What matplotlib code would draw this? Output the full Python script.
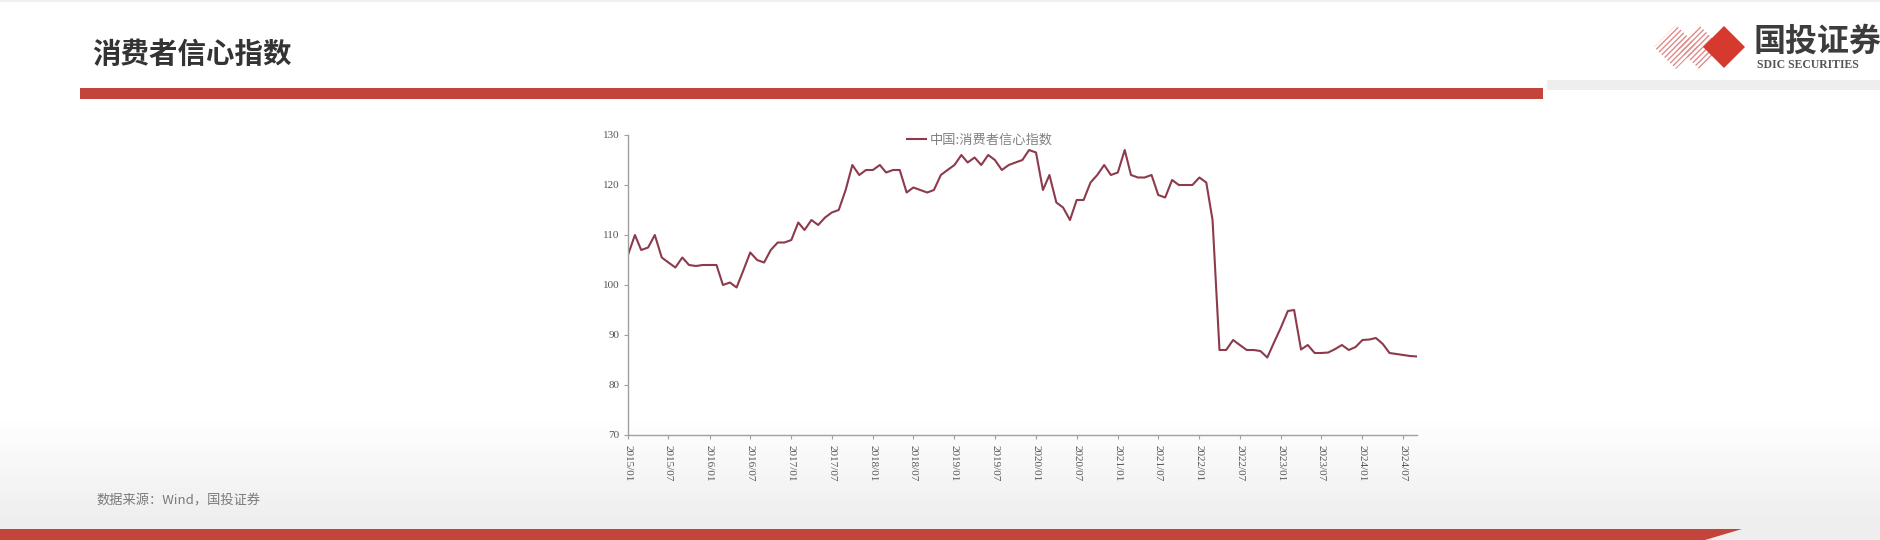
import numpy as np
import pandas as pd
import matplotlib
matplotlib.use("Agg")
import matplotlib.pyplot as plt
from matplotlib.patches import Polygon, Rectangle

plt.rcParams['font.family'] = ['Noto Sans CJK SC', 'DejaVu Sans']

# ---------------- data ----------------
title = "消费者信心指数"
series_name = "中国:消费者信心指数"
source_text = "数据来源：Wind，国投证券"
start_month = "2015-01"
cci = [
    106, 110, 107, 107.5, 110, 105.5, 104.5, 103.5, 105.5, 104, 103.8, 104,
    104, 104, 100, 100.5, 99.5, 103, 106.5, 105, 104.5, 107, 108.5, 108.5,
    109, 112.5, 111, 113, 112, 113.5, 114.5, 115, 119, 124, 122, 123,
    123, 124, 122.5, 123, 123, 118.5, 119.5, 119, 118.5, 119, 122, 123,
    124, 126, 124.5, 125.5, 124, 126, 125, 123, 124, 124.5, 125, 127,
    126.5, 119, 122, 116.5, 115.5, 113, 117, 117, 120.5, 122, 124, 122,
    122.5, 127, 122, 121.5, 121.5, 122, 118, 117.5, 121, 120, 120, 120,
    121.5, 120.5, 113, 87, 87, 89, 88, 87, 87, 86.8, 85.5, 88.5,
    91.5, 94.8, 95, 87.1, 88, 86.4, 86.4, 86.5, 87.2, 88, 87, 87.6,
    89, 89.1, 89.4, 88.2, 86.4, 86.2, 86, 85.8, 85.7,
]
x_labels = ["2015/01", "2015/07", "2016/01", "2016/07", "2017/01", "2017/07",
            "2018/01", "2018/07", "2019/01", "2019/07", "2020/01", "2020/07",
            "2021/01", "2021/07", "2022/01", "2022/07", "2023/01", "2023/07",
            "2024/01", "2024/07"]
y_ticks = [70, 80, 90, 100, 110, 120, 130]

dates = pd.date_range(start_month, periods=len(cci), freq="MS")
tick_dates = pd.to_datetime([s.replace("/", "-") for s in x_labels])

W, H = 1880, 540
fig = plt.figure(figsize=(W / 100, H / 100), dpi=100)

# ---------------- background ----------------
bg = fig.add_axes([0, 0, 1, 1])
bg.set_xlim(0, W)
bg.set_ylim(H, 0)
bg.axis("off")
rows = np.arange(H)
g = np.clip((rows - 420) / 100.0, 0, 1)
shade = 1.0 - 0.065 * g
img = np.repeat(shade[:, None], 10, axis=1)
bg.imshow(np.dstack([img, img, img]), extent=[0, W, H, 0], aspect="auto",
          vmin=0, vmax=1, zorder=0)
bg.add_patch(Rectangle((0, 0), W, 2, color="#f0f0f0", lw=0, zorder=1))

# header
bg.text(92, 55, title, fontsize=20.5, fontweight="bold", color="#333333",
        ha="left", va="center", zorder=3)
bg.add_patch(Rectangle((80, 88), 1463, 11, color="#c2443a", lw=0, zorder=2))
bg.add_patch(Rectangle((1547, 80), W - 1547, 10, color="#eeeeee", lw=0, zorder=2))

# logo
def diamond(cx, cy, r):
    return [(cx - r, cy), (cx, cy - r), (cx + r, cy), (cx, cy + r)]

for cx in (1676, 1699):
    bg.add_patch(Polygon(diamond(cx, 47, 22), closed=True, facecolor="none",
                         edgecolor="#e08a8a", hatch="//////", lw=0, zorder=3))
bg.add_patch(Polygon(diamond(1724, 47, 21), closed=True, facecolor="#d63a2f",
                     edgecolor="none", zorder=4))
bg.text(1754, 42, "国投证券", fontsize=23, fontweight="bold", color="#3c3c3c",
        ha="left", va="center", zorder=4)
bg.text(1757, 65, "SDIC SECURITIES", fontsize=8.5, fontweight="bold",
        color="#555555", ha="left", va="center",
        family=["Liberation Serif", "DejaVu Serif"], zorder=4)

# footer
bg.text(96, 501, source_text, fontsize=9.5, color="#7a7a7a",
        ha="left", va="center", zorder=3)
bg.add_patch(Polygon([(0, 529), (1742, 529), (1705, 540), (0, 540)],
                     closed=True, color="#c2443a", lw=0, zorder=2))

# ---------------- chart ----------------
L, R, T, B = 628, 1417, 135, 435
ax = fig.add_axes([L / W, 1 - B / H, (R - L) / W, (B - T) / H])
ax.patch.set_alpha(0)
line, = ax.plot(dates, cci, color="#8c3a4c", lw=1.5, label=series_name)
ax.set_xlim(dates[0], dates[-1])
ax.set_ylim(70, 130)
ax.set_yticks(y_ticks)
ax.set_yticklabels([str(v) for v in y_ticks])
ax.set_xticks(tick_dates)
ax.set_xticklabels(x_labels, rotation=270, ha="center", va="top")
for s in ("top", "right"):
    ax.spines[s].set_visible(False)
for s in ("left", "bottom"):
    ax.spines[s].set_color("#a0a0a0")
    ax.spines[s].set_linewidth(1.0)
ax.tick_params(axis="both", colors="#a0a0a0", length=3, width=0.8,
               labelcolor="#555555", labelsize=8)
ax.tick_params(axis="x", pad=4)
ax.tick_params(axis="y", pad=3)
for lab in ax.get_xticklabels() + ax.get_yticklabels():
    lab.set_family(["Liberation Serif", "DejaVu Serif"])

ax.legend(handles=[line], loc="center left",
          bbox_to_anchor=(907 / W, 1 - 140.5 / H), bbox_transform=fig.transFigure,
          frameon=False, fontsize=9.5, handlelength=1.45, handletextpad=0.3,
          borderpad=0, borderaxespad=0, labelcolor="#808080")

fig.savefig("out.png", dpi=100)
